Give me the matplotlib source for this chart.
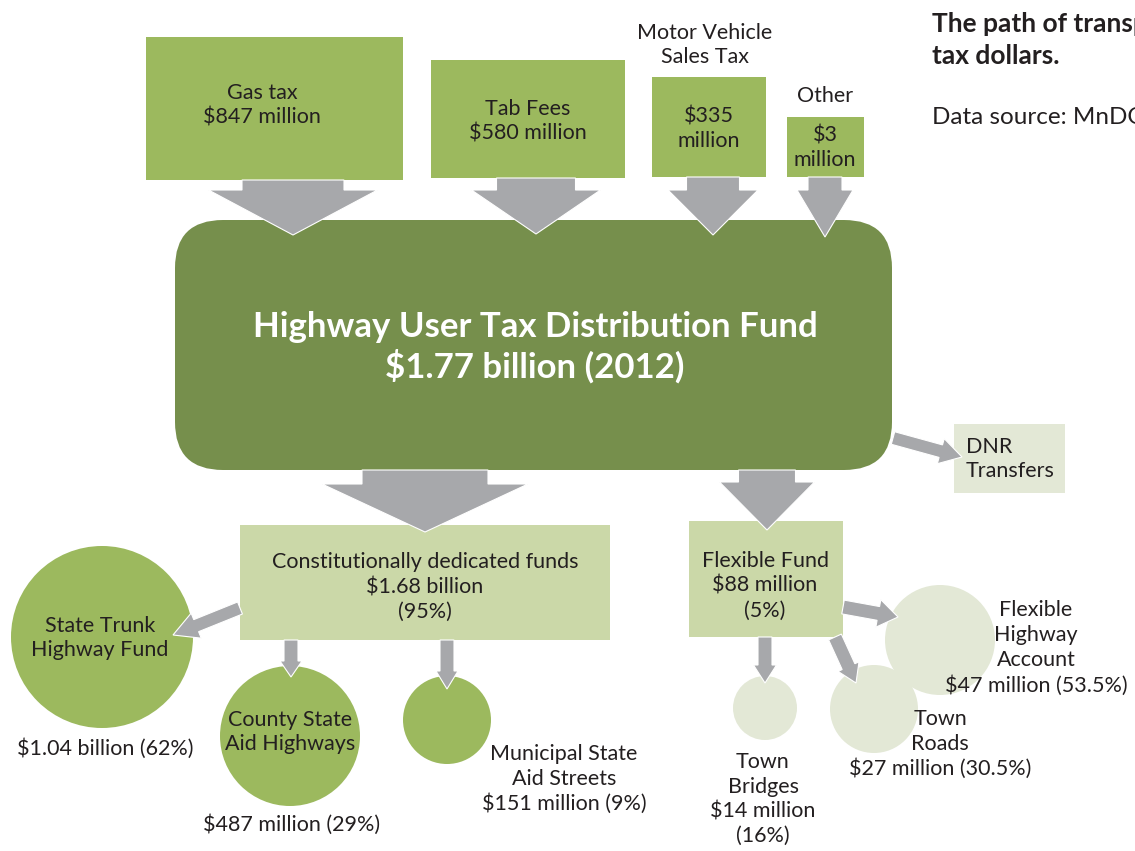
import matplotlib
matplotlib.use("Agg")
import matplotlib.pyplot as plt  # Para dibujar el diagrama
from matplotlib.patches import Rectangle, FancyBboxPatch, Circle, FancyArrow

# Datos del diagrama (millones de dólares, 2012)
fuentes = ["Gas tax", "Tab Fees", "Motor Vehicle\nSales Tax", "Other"]
valores_fuentes = [847, 580, 335, 3]
total_fondo = "$1.77 billion"
anio = 2012

dedicados = ["State Trunk\nHighway Fund", "County State\nAid Highways", "Municipal State\nAid Streets"]
dedicados_montos = ["$1.04 billion", "$487 million", "$151 million"]
dedicados_pct = [62, 29, 9]

flexibles = ["Flexible\nHighway\nAccount", "Town\nRoads", "Town\nBridges"]
flexibles_valores = [47, 27, 14]
flexibles_pct = ["53.5", "30.5", "16"]

constitucional_monto = "$1.68 billion"
constitucional_pct = 95
flexible_monto = 88
flexible_pct = 5

# Colores
VERDE = "#9cb95e"
VERDE_OSCURO = "#768f4c"
VERDE_CLARO = "#cbd8a8"
VERDE_PALIDO = "#e3e8d6"
GRIS = "#a7a8ab"
TEXTO = "#231f20"

plt.rcParams['font.family'] = ['Lato', 'DejaVu Sans']
TAM = 15.5  # tamaño del texto normal


def caja(ax, x0, y0, x1, y1, color):
    ax.add_patch(Rectangle((x0, y0), x1 - x0, y1 - y0, facecolor=color, edgecolor="none", zorder=1))


def flecha(ax, x0, y0, x1, y1, ancho, cabeza, largo):
    ax.add_patch(FancyArrow(x0, y0, x1 - x0, y1 - y0, width=ancho, head_width=cabeza,
                            head_length=largo, length_includes_head=True,
                            facecolor=GRIS, edgecolor="white", linewidth=0.8, zorder=3))


def texto(ax, x, y, s, size=TAM, color=TEXTO, weight="normal", ha="center", esp=1.3):
    ax.text(x, y, s, ha=ha, va="center", fontsize=size, color=color, weight=weight,
            linespacing=esp, zorder=4)


def dibujar():
    fig = plt.figure(figsize=(11.35, 8.51), dpi=100)
    ax = fig.add_axes([0, 0, 1, 1])
    ax.set_xlim(0, 1135)
    ax.set_ylim(851, 0)
    ax.set_aspect("equal")
    ax.axis("off")

    # 1. FUENTES
    cajas_fuentes = [(146, 37, 403, 180), (431, 60, 625, 178), (652, 77, 766, 177), (787, 117, 864, 177)]
    for (x0, y0, x1, y1) in cajas_fuentes:
        caja(ax, x0, y0, x1, y1, VERDE)
    texto(ax, 262, 105, f"{fuentes[0]}\n${valores_fuentes[0]} million")
    texto(ax, 528, 121, f"{fuentes[1]}\n${valores_fuentes[1]} million")
    texto(ax, 705, 45, fuentes[2])
    texto(ax, 709, 129, f"${valores_fuentes[2]}\nmillion")
    texto(ax, 825, 96, fuentes[3])
    texto(ax, 825, 148, f"${valores_fuentes[3]}\nmillion")

    flecha(ax, 293, 180, 293, 235, 102, 169, 45)
    flecha(ax, 536, 178, 536, 234, 79, 129, 44)
    flecha(ax, 713, 177, 713, 235, 53, 90, 45)
    flecha(ax, 825, 177, 825, 237, 34, 56, 47)

    # 2. FONDO PRINCIPAL
    ax.add_patch(FancyBboxPatch((175, 220), 717, 250, boxstyle="round,pad=0,rounding_size=48",
                                facecolor=VERDE_OSCURO, edgecolor="none", zorder=2))
    texto(ax, 535, 347, f"Highway User Tax Distribution Fund\n{total_fondo} ({anio})",
          size=25, color="white", weight="bold", esp=1.2)

    # DNR
    caja(ax, 954, 424, 1065, 493, VERDE_PALIDO)
    texto(ax, 966, 459, "DNR\nTransfers", ha="left")
    flecha(ax, 893, 438, 962, 457, 13, 26, 22)

    # 3. FONDOS CONSTITUCIONALES
    flecha(ax, 425, 470, 425, 532, 126, 206, 48)
    caja(ax, 240, 525, 610, 640, VERDE_CLARO)
    texto(ax, 425, 587, f"Constitutionally dedicated funds\n{constitucional_monto}\n({constitucional_pct}%)")

    circulos_ded = [(102, 637, 91), (290, 736, 70), (447, 720, 44)]
    for (cx, cy, r) in circulos_ded:
        ax.add_patch(Circle((cx, cy), r, facecolor=VERDE, edgecolor="none", zorder=1))
    texto(ax, 100, 638, dedicados[0])
    texto(ax, 105, 749, f"{dedicados_montos[0]} ({dedicados_pct[0]}%)")
    texto(ax, 290, 732, dedicados[1])
    texto(ax, 292, 825, f"{dedicados_montos[1]} ({dedicados_pct[1]}%)")
    texto(ax, 564, 779, f"{dedicados[2]}\n{dedicados_montos[2]} ({dedicados_pct[2]}%)")

    flecha(ax, 240, 608, 173, 635, 13, 27, 25)
    flecha(ax, 291, 640, 291, 677, 14, 22, 16)
    flecha(ax, 447, 640, 447, 689, 14, 22, 18)

    # 4. FONDO FLEXIBLE
    flecha(ax, 767, 470, 767, 530, 57, 95, 48)
    caja(ax, 689, 521, 843, 637, VERDE_CLARO)
    texto(ax, 765, 586, f"Flexible Fund\n${flexible_monto} million\n({flexible_pct}%)")

    circulos_flex = [(940, 640, 55), (874, 709, 44), (765, 708, 32)]
    for (cx, cy, r) in circulos_flex:
        ax.add_patch(Circle((cx, cy), r, facecolor=VERDE_PALIDO, edgecolor="none", zorder=1))
    texto(ax, 1036, 648, f"{flexibles[0]}\n${flexibles_valores[0]} million ({flexibles_pct[0]}%)")
    texto(ax, 940, 744, f"{flexibles[1]}\n${flexibles_valores[1]} million ({flexibles_pct[1]}%)")
    texto(ax, 763, 799, f"{flexibles[2]}\n${flexibles_valores[2]} million\n({flexibles_pct[2]}%)")

    flecha(ax, 843, 607, 898, 617, 14, 28, 20)
    flecha(ax, 765, 637, 765, 683, 14, 23, 18)
    flecha(ax, 835, 637, 856, 683, 14, 23, 18)

    # 5. TITULO (el original queda recortado por el borde derecho)
    ax.text(932, 40, "The path of transportation\ntax dollars.", ha="left", va="center",
            fontsize=19, weight="bold", color=TEXTO, linespacing=1.4)
    ax.text(932, 117, "Data source: MnDOT", ha="left", va="center", fontsize=17.5, color=TEXTO)

    fig.savefig("out.png", dpi=100)


if __name__ == '__main__':
    dibujar()
